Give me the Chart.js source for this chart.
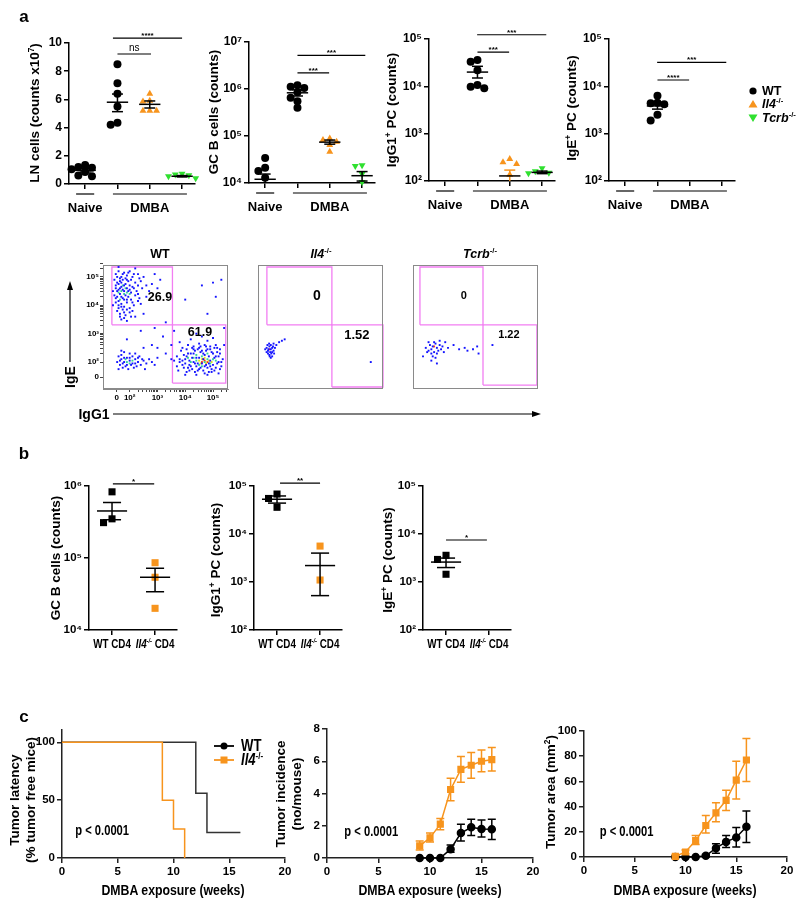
<!DOCTYPE html>
<html>
<head>
<meta charset="utf-8">
<title>DMBA IgE figure</title>
<script src="https://cdn.jsdelivr.net/npm/chart.js@4.4.1/dist/chart.umd.min.js"></script>
<style>
  body { margin: 0; background: #fff; }
  #page { position: relative; width: 800px; height: 906px; overflow: hidden; background: #fff;
          font-family: 'Liberation Sans', Arial, sans-serif; color: #000; }
  #page canvas, #page svg { position: absolute; }
  .lbl { position: absolute; white-space: nowrap; font-weight: bold; line-height: 1; font-size: 13px;
         transform: translate(-50%, -50%); }
  .lbl.rot { transform: translate(-50%, -50%) rotate(-90deg); }
  .lbl.left { transform: translate(0, -50%); }
  .lbl.nar { transform: translate(-50%, -50%) scaleX(0.82); }
  .lbl.left.nar { transform-origin: 0 50%; transform: translate(0, -50%) scaleX(0.82); }
  .lbl sup { font-size: 62%; vertical-align: 0.6em; line-height: 0; }
</style>
</head>
<body>
<div id="page"></div>
<script>
// ---------- values ----------
// panel a, top row. x: 0 = Naive WT, 1 = DMBA WT, 2 = DMBA Il4-/-, 3 = DMBA Tcrb-/-
const aTicks = [0, 1, 2, 3];
const lnNaive = [1.35, 1.2, 1.15, 1.05, 0.85, 0.6, 0.55];
const lnWT = [8.5, 7.15, 6.4, 5.5, 4.35, 4.2];
const lnIl4 = [6.4, 5.9, 5.85, 5.2, 5.2, 5.2];
const lnTcrb = [0.72, 0.68, 0.62, 0.55, 0.4];
const lnMean = [0.97, 5.8, 5.65, 0.55];
const lnLo = [0.85, 5.13, 5.39, 0.5];
const lnHi = [1.1, 6.38, 5.89, 0.6];

const gcNaive = [3.4e4, 2.1e4, 1.8e4, 1.3e4];
const gcWT = [1.2e6, 1.12e6, 1.05e6, 8.5e5, 6.5e5, 5.5e5, 4.0e5];
const gcIl4 = [8.8e4, 8.2e4, 7.5e4, 6.4e4, 4.6e4];
const gcTcrb = [2.4e4, 2.3e4, 1.55e4, 1.05e4];
const gcMean = [1.2e4, 8.3e5, 7.4e4, 1.43e4];
const gcLo = [9e3, 7.1e5, 6.7e4, 1.1e4];
const gcHi = [1.55e4, 9.6e5, 8.2e4, 1.75e4];

const pcWT = [3.6e4, 3.3e4, 2.2e4, 1.07e4, 9.8e3, 9.1e3];
const pcIl4 = [290, 250, 230, 135];
const pcTcrb = [185, 160, 150, 145];
const pcMean = [null, 2.0e4, 128, 152];
const pcLo = [null, 1.5e4, 95, 143];
const pcHi = [null, 2.65e4, 170, 162];

const ipcWT = [6.3e3, 4.5e3, 4.4e3, 4.2e3, 2.5e3, 1.9e3];
const ipcMean = [null, 3.85e3, null, null];
const ipcLo = [null, 3.3e3, null, null];
const ipcHi = [null, 4.6e3, null, null];

// flow plots, IgG1 (x) vs IgE (y), in log10 units (0 sits at ~1.5)
const flowMajorX = [1.53, 2, 3, 4, 5];
const flowMajorY = [1.47, 2, 3, 4, 5];
const flowMajorLbl = ['0', '10²', '10³', '10⁴', '10⁵'];
const wtBlue = [[1.5,5.1],[1.6,5.2],[1.7,5.0],[1.8,5.15],[1.9,5.05],[2.0,5.2],[2.1,5.0],[2.3,5.1],[2.5,5.0],
  [1.45,4.9],[1.55,4.8],[1.65,4.85],[1.75,4.9],[1.85,4.75],[1.95,4.85],[2.05,4.9],[2.2,4.8],[2.4,4.85],[2.6,4.7],[2.8,4.75],
  [1.5,4.6],[1.6,4.55],[1.7,4.65],[1.8,4.5],[1.9,4.6],[2.0,4.55],[2.1,4.65],[2.25,4.5],[2.45,4.6],[2.7,4.5],[3.0,4.6],
  [1.45,4.35],[1.55,4.3],[1.65,4.4],[1.75,4.25],[1.85,4.35],[1.95,4.3],[2.05,4.2],[2.2,4.35],[2.35,4.25],[2.6,4.3],
  [1.5,4.1],[1.6,4.0],[1.7,4.05],[1.8,3.95],[1.9,4.1],[2.0,3.9],[2.15,4.0],[2.4,4.05],[1.55,3.8],[1.65,3.7],[1.75,3.85],
  [1.85,3.65],[2.0,3.75],[2.2,3.6],[1.7,3.5],[1.9,3.45],[2.5,3.7],[1.4,4.5],[1.4,4.0],[3.1,4.9],[2.9,5.1],[1.6,5.35],[2.2,5.3],
  [1.55,5.0],[1.65,4.95],[1.75,5.1],[1.85,4.95],[1.95,5.15],[2.15,5.1],[2.35,4.95],[1.5,4.7],[1.6,4.75],[1.7,4.8],[1.8,4.7],
  [1.9,4.9],[2.0,4.7],[2.15,4.6],[2.3,4.7],[1.55,4.5],[1.65,4.6],[1.75,4.55],[1.95,4.5],[2.05,4.45],[2.3,4.4],[1.5,4.25],
  [1.6,4.15],[1.7,4.3],[1.8,4.2],[1.9,4.2],[2.1,4.1],[2.3,4.15],[1.6,3.9],[1.7,3.95],[1.8,3.75],[1.9,3.85],[2.1,3.8],
  [1.65,3.6],[1.8,3.55],[2.05,3.6],
  [1.6,2.2],[1.7,2.1],[1.8,2.0],[1.9,2.15],[2.0,2.05],[2.1,1.95],[2.2,2.1],[2.3,2.0],[2.4,1.9],[2.5,2.05],[2.6,1.95],
  [2.7,2.1],[2.8,2.0],[1.65,1.9],[1.75,1.8],[1.85,1.85],[1.95,1.75],[2.05,1.9],[2.15,1.8],[2.25,1.85],[2.35,2.2],[1.55,2.0],
  [1.6,1.75],[2.0,2.3],[1.8,2.35],[2.2,2.3],[2.9,1.9],[3.0,2.15],[2.55,1.75],[1.7,2.4],
  [1.7,2.25],[1.8,2.15],[1.9,1.9],[2.0,2.15],[2.1,2.2],[2.2,1.95],[2.3,2.15],[1.75,1.95],[1.65,2.05],[2.45,2.1],
  [3.7,2.2],[3.8,2.0],[3.9,1.9],[4.0,2.1],[4.1,1.8],[4.2,2.3],[4.3,2.0],[4.4,1.85],[4.5,2.15],[4.6,1.95],[4.7,2.25],
  [4.8,1.8],[4.9,2.05],[5.0,1.9],[5.1,2.2],[5.2,2.0],[5.3,1.85],[3.75,1.7],[3.85,2.4],[3.95,2.25],[4.05,1.65],[4.15,2.05],
  [4.25,1.75],[4.35,2.4],[4.45,1.7],[4.55,2.35],[4.65,1.7],[4.75,2.4],[4.85,1.65],[4.95,2.35],[5.05,1.7],[5.15,2.35],
  [5.25,2.3],[5.35,2.1],[3.9,2.5],[4.1,2.6],[4.3,2.55],[4.5,2.65],[4.7,2.6],[4.9,2.55],[5.1,2.6],[4.0,1.55],[4.4,1.55],
  [4.8,1.55],[5.2,1.6],[4.2,2.8],[4.6,2.9],[4.8,2.75],[4.4,3.0],[5.0,2.85],[3.8,2.7],[4.05,2.45],[4.25,2.15],[4.45,2.45],
  [4.65,2.1],[4.85,2.2],[5.05,2.5],[5.25,1.75],[3.7,1.85],[3.6,2.05],[4.15,1.9],[4.35,1.95],[4.55,1.8],[4.75,1.9],
  [4.95,1.75],[5.15,1.95],[4.3,2.3],[4.5,2.5],[4.7,1.6],[4.9,2.45],
  [3.8,2.1],[3.9,2.05],[4.0,1.95],[4.1,2.3],[4.2,1.85],[4.3,2.45],[4.4,2.15],[4.5,1.75],[4.6,2.4],[4.7,1.85],[4.8,2.45],
  [4.9,1.85],[5.0,2.3],[5.1,1.8],[5.2,2.2],[5.3,2.0],[3.95,1.8],[4.05,2.2],[4.25,2.5],[4.45,1.95],[4.65,2.3],[4.85,1.95],
  [5.05,2.15],[5.25,2.45],[4.15,1.7],[4.35,1.65],[4.55,2.55],[4.75,2.55],[4.95,1.65],[5.15,2.5],
  [3.3,2.3],[3.5,2.1],[3.0,2.5],[2.8,2.6],[3.2,2.9],[2.4,3.1],[2.9,3.2],[1.9,2.8],[2.5,2.5],[4.0,4.2],[5.1,4.3],
  [4.8,3.7],[5.0,4.8],[5.3,4.9],[4.6,4.7],[3.6,3.1],[3.3,3.4],[5.4,3.2],[5.4,2.6],[3.5,2.6]];
const wtGreen = [[1.7,4.5],[1.8,4.4],[1.75,4.7],[1.9,4.45],[1.65,4.2],[1.85,4.6],[1.6,4.45],[2.0,4.4],
  [1.9,2.0],[2.0,1.95],[2.1,2.05],[1.85,2.1],
  [4.2,2.0],[4.3,2.15],[4.4,2.05],[4.5,1.9],[4.6,2.2],[4.7,2.0],[4.8,2.1],[4.9,1.95],[5.0,2.1],[4.4,2.25],
  [4.6,1.85],[4.8,2.3],[4.1,2.15],[5.1,2.05]];
const wtYellow = [[4.5,2.05],[4.6,2.1],[4.7,2.15],[4.75,1.95],[4.85,2.05],[4.55,1.95],[4.95,2.0]];
const wtRed = [[4.6,2.0],[4.7,2.05],[4.65,2.1],[4.8,2.0]];
const il4Blue = [[1.35,2.5],[1.4,2.4],[1.45,2.55],[1.5,2.45],[1.55,2.35],[1.4,2.3],[1.45,2.25],[1.5,2.6],[1.55,2.5],
  [1.6,2.4],[1.35,2.35],[1.42,2.45],[1.48,2.35],[1.52,2.3],[1.58,2.55],[1.38,2.6],[1.62,2.3],[1.46,2.2],[1.5,2.15],
  [1.44,2.65],[1.55,2.2],[1.65,2.5],[1.7,2.6],[1.8,2.7],[1.9,2.75],[2.0,2.8],[1.6,2.65],[1.3,2.45],[5.1,2.0]];
const il4Red = [[1.45,2.45]];
const tcrbBlue = [[1.5,2.5],[1.6,2.4],[1.65,2.6],[1.7,2.45],[1.75,2.55],[1.8,2.35],[1.85,2.65],[1.9,2.5],[1.95,2.4],
  [2.0,2.6],[2.05,2.45],[2.1,2.55],[1.6,2.7],[1.7,2.3],[1.8,2.7],[1.9,2.3],[2.0,2.75],[2.15,2.35],[1.55,2.35],[1.75,2.2],
  [1.85,2.15],[2.2,2.7],[2.3,2.5],[2.5,2.6],[2.7,2.45],[2.9,2.5],[3.0,2.4],[3.2,2.45],[3.35,2.55],[3.4,2.3],[3.9,2.6],
  [1.4,2.2],[1.9,1.95],[1.7,2.05]];
const tcrbRed = [[1.8,2.55]];
// gates: [x0, x1, y0, y1]
const wtGateUL = [1.36, 3.54, 3.31, 5.35], wtGateLR = [3.54, 5.46, 1.26, 3.31];
const il4GateUL = [1.36, 3.70, 3.31, 5.35], il4GateLR = [3.70, 5.54, 1.12, 3.31];
const tcrbGateUL = [1.29, 3.56, 3.31, 5.35], tcrbGateLR = [3.56, 5.50, 1.19, 3.31];
const wtFreq = ['26.9', '61.9'], il4Freq = ['0', '1.52'], tcrbFreq = ['0', '1.22'];

// panel b. x: 0 = WT CD4, 1 = Il4-/- CD4
const bTicks = [0, 1];
const bGcWT = [8.3e5, 3.5e5, 3.1e5], bGcIl4 = [8.6e4, 5.4e4, 2.0e4];
const bGcMean = [4.5e5, 5.4e4], bGcLo = [3.4e5, 3.4e4], bGcHi = [5.9e5, 7.2e4];
const bPcWT = [6.8e4, 5.5e4, 3.6e4], bPcIl4 = [5.6e3, 1.1e3];
const bPcMean = [5.3e4, 2.2e3], bPcLo = [4.4e4, 520], bPcHi = [6.2e4, 4.0e3];
const bIpcWT = [3.6e3, 2.95e3, 1.45e3];
const bIpcMean = [2.6e3, null], bIpcLo = [2.0e3, null], bIpcHi = [3.15e3, null];

// panel c
const weekTicks = [0, 5, 10, 15, 20];
const survWeeksWT = [0, 12, 13, 16], survWT = [100, 56, 22, 22];
const survWeeksIl4 = [0, 9, 10, 11], survIl4 = [100, 50, 25, 0];
const weeks = [9, 10, 11, 12, 13, 14, 15, 16];
const incIl4 = [0.75, 1.25, 2.1, 4.25, 5.5, 5.75, 6.0, 6.1];
const incIl4Lo = [0.5, 1.0, 1.75, 3.55, 4.7, 4.95, 5.35, 5.4];
const incIl4Hi = [1.05, 1.55, 2.45, 4.95, 6.3, 6.55, 6.7, 6.85];
const incWT = [0, 0, 0, 0.55, 1.55, 1.9, 1.8, 1.78];
const incWTLo = [0, 0, 0, 0.35, 1.05, 1.4, 1.3, 1.15];
const incWTHi = [0, 0, 0, 0.8, 2.1, 2.4, 2.35, 2.4];
const areaIl4 = [0.5, 4, 13, 25, 35, 45, 61, 77];
const areaIl4Lo = [0, 2.5, 10, 19, 28, 37, 46, 60];
const areaIl4Hi = [1.5, 5.5, 17, 33, 43, 53, 76, 94];
const areaWT = [0, 0, 0, 1, 7, 12, 15.5, 24];
const areaWTLo = [0, 0, 0, 0, 3, 7.5, 8, 11.5];
const areaWTHi = [0, 0, 0, 2, 10.5, 17, 23.5, 36.5];

// ---------- styling ----------
const FONT = "'Liberation Sans', Arial, sans-serif";
const ORANGE = '#f7941d', GREEN = '#2fe02f', PINK = '#f27ef2', FRAME = '#8a8a8a';
const SUP = { '0': '⁰', '1': '¹', '2': '²', '3': '³', '4': '⁴', '5': '⁵', '6': '⁶', '7': '⁷', '8': '⁸', '9': '⁹' };
const pow10 = v => '10' + String(Math.round(Math.log10(v))).split('').map(d => SUP[d]).join('');

Chart.defaults.font.family = FONT;
Chart.defaults.color = '#000';
Chart.defaults.plugins.legend.display = false;
Chart.defaults.plugins.tooltip.enabled = false;

const page = document.getElementById('page');

// centred text made of runs, squeezed horizontally by sx
function drawRuns(ctx, runs, x, y, sx) {
  let w = 0;
  runs.forEach(r => { ctx.font = r.f; w += ctx.measureText(r.t).width; });
  ctx.save();
  ctx.translate(x, y);
  ctx.scale(sx || 1, 1);
  let cx = -w / 2;
  ctx.textAlign = 'left';
  ctx.textBaseline = 'middle';
  runs.forEach(r => { ctx.font = r.f; ctx.fillText(r.t, cx, r.dy || 0); cx += ctx.measureText(r.t).width; });
  ctx.restore();
}

// mean/SEM, significance bars, group lines and in-plot labels
Chart.register({
  id: 'decor',
  afterDatasetsDraw(chart, args, o) {
    const { ctx, chartArea: ca } = chart;
    const X = chart.scales.x, Y = chart.scales.y;
    ctx.save();
    ctx.fillStyle = '#000';
    const seg = (x0, y0, x1, y1, w, c) => {
      ctx.beginPath(); ctx.lineWidth = w; ctx.strokeStyle = c;
      ctx.moveTo(x0, y0); ctx.lineTo(x1, y1); ctx.stroke();
    };
    const yc = v => Math.min(Math.max(Y.getPixelForValue(v), ca.top), ca.bottom);
    if (o.frame) {
      ctx.lineWidth = 1; ctx.strokeStyle = o.frame;
      ctx.strokeRect(ca.left + 0.5, ca.top + 0.5, ca.right - ca.left - 1, ca.bottom - ca.top - 1);
    }
    if (o.stats) {
      const s = o.stats;
      s.mean.forEach((m, i) => {
        if (m == null) return;
        const x = X.getPixelForValue(s.cats[i]);
        const hw = X.getPixelForValue(s.cats[i] + s.meanHalf) - x;
        const cw = X.getPixelForValue(s.cats[i] + s.capHalf) - x;
        const c = (s.colors && s.colors[i]) || '#000';
        const lo = yc(s.lo[i]), hi = yc(s.hi[i]), ym = Y.getPixelForValue(m);
        seg(x, lo, x, hi, 1.5, c);
        seg(x - cw, hi, x + cw, hi, 1.5, c);
        if (s.lo[i] > Y.min) seg(x - cw, lo, x + cw, lo, 1.5, c);
        seg(x - hw, ym, x + hw, ym, 1.5, '#000');
      });
    }
    (o.sig || []).forEach(s => {
      const y = Y.getPixelForValue(s.y), x0 = X.getPixelForValue(s.a), x1 = X.getPixelForValue(s.b);
      seg(x0, y, x1, y, 1.2, '#000');
      ctx.font = s.font || 'bold 8px ' + FONT;
      ctx.textAlign = 'center'; ctx.textBaseline = 'alphabetic';
      ctx.fillText(s.label, (x0 + x1) / 2, y - (s.up || 0));
    });
    (o.groups || []).forEach(g => {
      const yl = ca.bottom + o.groupDy;
      seg(X.getPixelForValue(g.a), yl, X.getPixelForValue(g.b), yl, 1.2, '#000');
      ctx.font = 'bold 13px ' + FONT; ctx.textAlign = 'center'; ctx.textBaseline = 'middle';
      ctx.fillText(g.label, X.getPixelForValue(g.c), ca.bottom + o.groupTextDy);
    });
    (o.xruns || []).forEach(l => drawRuns(ctx, l.runs, X.getPixelForValue(l.x), ca.bottom + o.xrunDy, 0.82));
    (o.texts || []).forEach(t => drawRuns(ctx, [{ t: t.text, f: t.font }], X.getPixelForValue(t.x), Y.getPixelForValue(t.y), t.sx));
    ctx.restore();
  }
});

// error bars for the growth curves
Chart.register({
  id: 'errbars',
  beforeDatasetsDraw(chart) {
    const Y = chart.scales.y, ctx = chart.ctx;
    chart.data.datasets.forEach((ds, i) => {
      if (!ds.errLo) return;
      ctx.save(); ctx.strokeStyle = ds.borderColor; ctx.lineWidth = 1.5;
      chart.getDatasetMeta(i).data.forEach((pt, j) => {
        const lo = Y.getPixelForValue(ds.errLo[j]), hi = Y.getPixelForValue(ds.errHi[j]);
        if (Math.abs(hi - lo) < 1) return;
        ctx.beginPath();
        ctx.moveTo(pt.x, lo); ctx.lineTo(pt.x, hi);
        ctx.moveTo(pt.x - 4, lo); ctx.lineTo(pt.x + 4, lo);
        ctx.moveTo(pt.x - 4, hi); ctx.lineTo(pt.x + 4, hi);
        ctx.stroke();
      });
      ctx.restore();
    });
  }
});

function around(a, l, t, r, b) {
  return { l: a.l - l, t: a.t - t, w: a.r - a.l + l + r, h: a.b - a.t + t + b };
}

// yW / xH: fixed widths given to the axes, so the plot area lands exactly on `area`
function makeChart(box, area, config, yW, xH) {
  const cv = document.createElement('canvas');
  cv.width = box.w; cv.height = box.h;
  cv.style.left = box.l + 'px'; cv.style.top = box.t + 'px';
  cv.style.width = box.w + 'px'; cv.style.height = box.h + 'px';
  page.appendChild(cv);
  Object.assign(config.options, {
    responsive: false, animation: false, devicePixelRatio: 1, events: [],
    layout: { padding: { left: area.l - box.l - yW, top: area.t - box.t,
                         right: box.l + box.w - area.r, bottom: box.t + box.h - area.b - xH } }
  });
  return new Chart(cv.getContext('2d'), config);
}

function axis(isX, range, ticks, o = {}) {
  return {
    type: range.log ? 'logarithmic' : 'linear',
    display: !o.hide,
    min: range.min, max: range.max,
    afterBuildTicks: s => { s.ticks = ticks.map(v => ({ value: v })); },
    afterFit: s => { if (isX) s.height = o.size; else s.width = o.size; },
    ticks: { display: !o.noLabels, autoSkip: false, maxRotation: 0, minRotation: 0, padding: o.pad ?? 2, color: '#000',
             font: o.font || { size: 12, weight: 'bold' }, callback: o.fmt || (v => '' + v) },
    grid: { display: true, drawOnChartArea: false, drawTicks: true, tickLength: o.tl ?? 5,
            color: o.tc || '#000', lineWidth: o.lw ?? 1.5 },
    border: { display: true, color: o.bc || '#000', width: o.lw ?? 1.5 }
  };
}

function yMapper(area, y) {
  const f = y.log ? Math.log10 : (v => v);
  const a = f(y.min), b = f(y.max);
  return v => area.b - (f(v) - a) / (b - a) * (area.b - area.t);
}

// simple beeswarm: pixel offsets so that markers do not sit on top of each other
function swarm(vals, toPix, r) {
  const placed = [], step = 1.7 * r;
  return vals.map(v => {
    const py = toPix(v);
    for (let k = 0; k < 30; k++) {
      const dx = k === 0 ? 0 : (k % 2 ? -1 : 1) * Math.ceil(k / 2) * step;
      if (placed.every(p => Math.hypot(p.x - dx, p.y - py) >= step - 0.5)) {
        placed.push({ x: dx, y: py });
        return dx;
      }
    }
    return 0;
  });
}

function dotPlot(area, xr, yr, yTicks, fmt, groups, decor, r, font) {
  const ymap = yMapper(area, yr);
  const ppu = (area.r - area.l) / (xr.max - xr.min);
  const datasets = groups.map(g => {
    const off = swarm(g.vals, ymap, r);
    return {
      data: g.vals.map((v, i) => ({ x: g.cat + off[i] / ppu, y: v })),
      pointStyle: g.style, rotation: g.rot || 0, pointRadius: r,
      backgroundColor: g.color, borderColor: g.color, borderWidth: 0, clip: false
    };
  });
  return makeChart(around(area, 55, 34, 20, 40), area, {
    type: 'scatter',
    data: { datasets },
    options: {
      scales: {
        x: axis(true, xr, xr.ticks, { noLabels: true, tl: 5, size: 24 }),
        y: axis(false, yr, yTicks, { font, fmt, pad: 2, size: 42 })
      },
      plugins: { decor }
    }
  }, 42, 24);
}

// ---------- panel a, top row ----------
const aX = { min: -0.5, max: 3.4, ticks: aTicks };
const aFont = { size: 12, weight: 'bold' };
const aGroups = [{ a: -0.28, b: 0.28, c: 0, label: 'Naive' }, { a: 0.86, b: 3.15, c: 2, label: 'DMBA' }];
const aStats = (mean, lo, hi, colors) => ({ cats: aTicks, mean, lo, hi, colors, meanHalf: 0.33, capHalf: 0.17 });
const star = (a, b, y, label) => ({ a, b, y, label, font: 'bold 8px ' + FONT, up: 0 });

dotPlot({ l: 69, t: 43, r: 195, b: 184 }, aX, { min: 0, max: 10 }, [0, 2, 4, 6, 8, 10], null, [
  { vals: lnNaive, cat: 0, color: '#000', style: 'circle' },
  { vals: lnWT, cat: 1, color: '#000', style: 'circle' },
  { vals: lnIl4, cat: 2, color: ORANGE, style: 'triangle' },
  { vals: lnTcrb, cat: 3, color: GREEN, style: 'triangle', rot: 180 }
], {
  stats: aStats(lnMean, lnLo, lnHi), groups: aGroups, groupDy: 10, groupTextDy: 24,
  sig: [star(0.86, 3, 10.35, '****'), { a: 1, b: 2.04, y: 9.22, label: 'ns', font: '10px ' + FONT, up: 3 }]
}, 4, aFont);

dotPlot({ l: 249, t: 42, r: 375, b: 183 }, aX, { min: 1e4, max: 1e7, log: true }, [1e4, 1e5, 1e6, 1e7], pow10, [
  { vals: gcNaive, cat: 0, color: '#000', style: 'circle' },
  { vals: gcWT, cat: 1, color: '#000', style: 'circle' },
  { vals: gcIl4, cat: 2, color: ORANGE, style: 'triangle' },
  { vals: gcTcrb, cat: 3, color: GREEN, style: 'triangle', rot: 180 }
], {
  stats: aStats(gcMean, gcLo, gcHi), groups: aGroups, groupDy: 10, groupTextDy: 24,
  sig: [star(1, 3.1, 5.2e6, '***'), star(1, 1.98, 2.2e6, '***')]
}, 4, aFont);

dotPlot({ l: 429, t: 39, r: 555, b: 181 }, aX, { min: 1e2, max: 1e5, log: true }, [1e2, 1e3, 1e4, 1e5], pow10, [
  { vals: pcWT, cat: 1, color: '#000', style: 'circle' },
  { vals: pcIl4, cat: 2, color: ORANGE, style: 'triangle' },
  { vals: pcTcrb, cat: 3, color: GREEN, style: 'triangle', rot: 180 }
], {
  stats: aStats(pcMean, pcLo, pcHi, [null, '#000', ORANGE, '#000']), groups: aGroups, groupDy: 10, groupTextDy: 24,
  sig: [star(0.99, 3.13, 1.23e5, '***'), star(1, 1.98, 5.3e4, '***')]
}, 4, aFont);

dotPlot({ l: 609, t: 39, r: 735, b: 181 }, aX, { min: 1e2, max: 1e5, log: true }, [1e2, 1e3, 1e4, 1e5], pow10, [
  { vals: ipcWT, cat: 1, color: '#000', style: 'circle' }
], {
  stats: aStats(ipcMean, ipcLo, ipcHi), groups: aGroups, groupDy: 10, groupTextDy: 24,
  sig: [star(0.99, 3.13, 3.2e4, '***'), star(1, 1.98, 1.36e4, '****')]
}, 4, aFont);

// ---------- panel a, flow plots ----------
function flowPlot(area, clouds, gates, texts, withAxes) {
  const datasets = clouds.map(c => ({
    data: c.pts.map(p => ({ x: p[0], y: p[1] })), pointStyle: 'rect', pointRadius: 1.35,
    backgroundColor: c.color, borderWidth: 0
  }));
  gates.forEach(g => datasets.push({
    data: [{ x: g[0], y: g[2] }, { x: g[1], y: g[2] }, { x: g[1], y: g[3] }, { x: g[0], y: g[3] }, { x: g[0], y: g[2] }],
    showLine: true, pointRadius: 0, borderColor: PINK, borderWidth: 1.3, fill: false, clip: 3
  }));
  const minor = [];
  [2, 3, 4, 5].forEach(d => [1, 2, 3, 4, 5, 6, 7, 8, 9].forEach(m => { const v = d + Math.log10(m); if (v < 5.5) minor.push(v); }));
  const fmt = major => v => { const i = major.indexOf(v); return i >= 0 ? flowMajorLbl[i] : ''; };
  const fo = { font: { size: 8, weight: 'bold' }, tl: 3, lw: 1, tc: '#444', bc: FRAME, pad: 1, hide: !withAxes };
  const w = withAxes ? 30 : 0, h = withAxes ? 18 : 0;
  return makeChart(around(area, 45, 12, 10, 22), area, {
    type: 'scatter',
    data: { datasets },
    options: {
      scales: {
        x: axis(true, { min: 1.04, max: 5.54 }, [1.53, ...minor], { ...fo, fmt: fmt(flowMajorX), size: h }),
        y: axis(false, { min: 1.05, max: 5.42 }, [1.47, ...minor], { ...fo, fmt: fmt(flowMajorY), size: w })
      },
      plugins: { decor: { frame: FRAME, texts } }
    }
  }, w, h);
}

flowPlot({ l: 103, t: 265, r: 228, b: 389 },
  [{ pts: wtBlue, color: '#1414ff' }, { pts: wtGreen, color: '#34d59a' }, { pts: wtYellow, color: '#e6e21c' }, { pts: wtRed, color: '#ff3a10' }],
  [wtGateUL, wtGateLR],
  [{ text: wtFreq[0], x: 3.09, y: 4.26, font: 'bold 12.5px ' + FONT }, { text: wtFreq[1], x: 4.53, y: 3.03, font: 'bold 12.5px ' + FONT }], true);
flowPlot({ l: 258, t: 265, r: 383, b: 389 },
  [{ pts: il4Blue, color: '#1414ff' }, { pts: il4Red, color: '#ff3a10' }],
  [il4GateUL, il4GateLR],
  [{ text: il4Freq[0], x: 3.16, y: 4.33, font: 'bold 14px ' + FONT }, { text: il4Freq[1], x: 4.6, y: 2.95, font: 'bold 13px ' + FONT }], false);
flowPlot({ l: 413, t: 265, r: 538, b: 389 },
  [{ pts: tcrbBlue, color: '#1414ff' }, { pts: tcrbRed, color: '#ff3a10' }],
  [tcrbGateUL, tcrbGateLR],
  [{ text: tcrbFreq[0], x: 2.87, y: 4.33, font: 'bold 11px ' + FONT }, { text: tcrbFreq[1], x: 4.49, y: 2.95, font: 'bold 11px ' + FONT }], false);

// ---------- panel b ----------
const bX = { min: -0.535, max: 1.51, ticks: bTicks };
const bFont = { size: 11.5, weight: 'bold' };
const NB = 'bold 12px ' + FONT, NBI = 'italic bold 12px ' + FONT, NBS = 'italic bold 7px ' + FONT;
const bRuns = [
  { x: 0, runs: [{ t: 'WT CD4', f: NB }] },
  { x: 1, runs: [{ t: 'Il4', f: NBI }, { t: '-/-', f: NBS, dy: -4 }, { t: ' CD4', f: NB }] }
];
const bStats = (mean, lo, hi) => ({ cats: bTicks, mean, lo, hi, meanHalf: 0.35, capHalf: 0.21 });

dotPlot({ l: 89, t: 486, r: 177, b: 630 }, bX, { min: 1e4, max: 1e6, log: true }, [1e4, 1e5, 1e6], pow10, [
  { vals: bGcWT, cat: 0, color: '#000', style: 'rect' },
  { vals: bGcIl4, cat: 1, color: ORANGE, style: 'rect' }
], { stats: bStats(bGcMean, bGcLo, bGcHi), xruns: bRuns, xrunDy: 15, sig: [star(0.02, 0.98, 1.07e6, '*')] }, 5, bFont);

dotPlot({ l: 254, t: 486, r: 342, b: 630 }, bX, { min: 1e2, max: 1e5, log: true }, [1e2, 1e3, 1e4, 1e5], pow10, [
  { vals: bPcWT, cat: 0, color: '#000', style: 'rect' },
  { vals: bPcIl4, cat: 1, color: ORANGE, style: 'rect' }
], { stats: bStats(bPcMean, bPcLo, bPcHi), xruns: bRuns, xrunDy: 15, sig: [star(0.07, 1, 1.15e5, '**')] }, 5, bFont);

dotPlot({ l: 423, t: 486, r: 511, b: 630 }, bX, { min: 1e2, max: 1e5, log: true }, [1e2, 1e3, 1e4, 1e5], pow10, [
  { vals: bIpcWT, cat: 0, color: '#000', style: 'rect' }
], { stats: bStats(bIpcMean, bIpcLo, bIpcHi), xruns: bRuns, xrunDy: 15, sig: [star(0, 0.95, 7.5e3, '*')] }, 5, bFont);

// ---------- panel c ----------
const cFont = { size: 11.5, weight: 'bold' };
function curvePlot(area, yr, yTicks, sets, texts) {
  const datasets = sets.map(s => ({
    data: s.x.map((w, i) => ({ x: w, y: s.y[i] })),
    borderColor: s.color, backgroundColor: s.color, borderWidth: 1.5, pointStyle: s.style || 'circle',
    pointRadius: s.r || 0, stepped: s.stepped || false, tension: 0, fill: false, clip: false,
    errLo: s.lo, errHi: s.hi
  }));
  const ao = { font: cFont, tl: 5, pad: 2, lw: 1.5, tc: '#222', bc: '#222' };
  return makeChart(around(area, 40, 14, 13, 24), area, {
    type: 'line',
    data: { datasets },
    options: {
      scales: {
        x: axis(true, { min: 0, max: 20 }, weekTicks, { ...ao, size: 22 }),
        y: axis(false, yr, yTicks, { ...ao, size: 32 })
      },
      plugins: { decor: { texts } }
    }
  }, 32, 22);
}
const pFont = 'bold 14px ' + FONT;

curvePlot({ l: 62, t: 730, r: 285, b: 858 }, { min: 0, max: 110.6 }, [0, 50, 100], [
  { x: survWeeksIl4, y: survIl4, color: ORANGE, stepped: 'before' },
  { x: survWeeksWT, y: survWT, color: '#333', stepped: 'before' }
], [{ text: 'p < 0.0001', x: 3.6, y: 23, font: pFont, sx: 0.8 }]);

curvePlot({ l: 327, t: 729, r: 533, b: 858 }, { min: 0, max: 8 }, [0, 2, 4, 6, 8], [
  { x: weeks, y: incIl4, lo: incIl4Lo, hi: incIl4Hi, color: ORANGE, style: 'rect', r: 4 },
  { x: weeks, y: incWT, lo: incWTLo, hi: incWTHi, color: '#000', style: 'circle', r: 3.5 }
], [{ text: 'p < 0.0001', x: 4.3, y: 1.62, font: pFont, sx: 0.8 }]);

curvePlot({ l: 584, t: 731, r: 787, b: 857 }, { min: 0, max: 100 }, [0, 20, 40, 60, 80, 100], [
  { x: weeks, y: areaIl4, lo: areaIl4Lo, hi: areaIl4Hi, color: ORANGE, style: 'rect', r: 4 },
  { x: weeks, y: areaWT, lo: areaWTLo, hi: areaWTHi, color: '#000', style: 'circle', r: 3.5 }
], [{ text: 'p < 0.0001', x: 4.2, y: 19.8, font: pFont, sx: 0.8 }]);

// ---------- text and small drawn keys ----------
function label(html, x, y, cls, style) {
  const d = document.createElement('div');
  d.className = 'lbl ' + (cls || '');
  d.innerHTML = html;
  d.style.left = x + 'px'; d.style.top = y + 'px';
  if (style) d.style.cssText += ';' + style;
  page.appendChild(d);
}

const svgNS = 'http://www.w3.org/2000/svg';
const svg = document.createElementNS(svgNS, 'svg');
svg.setAttribute('width', 800); svg.setAttribute('height', 906);
svg.style.left = '0px'; svg.style.top = '0px';
svg.innerHTML = `
  <line x1="70" y1="362" x2="70" y2="288" stroke="#000" stroke-width="1.2"/>
  <polygon points="70,281 67,290 73,290" fill="#000"/>
  <line x1="113" y1="414" x2="534" y2="414" stroke="#000" stroke-width="1.2"/>
  <polygon points="541,414 532,411 532,417" fill="#000"/>
  <circle cx="753" cy="91" r="3.6" fill="#000"/>
  <polygon points="753,100 757.5,107.5 748.5,107.5" fill="${ORANGE}"/>
  <polygon points="748.5,114.5 757.5,114.5 753,122" fill="${GREEN}"/>
  <line x1="214" y1="746" x2="234" y2="746" stroke="#000" stroke-width="1.8"/>
  <circle cx="224" cy="746" r="3.5" fill="#000"/>
  <line x1="214" y1="760" x2="234" y2="760" stroke="${ORANGE}" stroke-width="1.8"/>
  <rect x="220.5" y="756.5" width="7" height="7" fill="${ORANGE}"/>`;
page.appendChild(svg);

label('a', 24, 16, '', 'font-size:17px');
label('b', 24, 453, '', 'font-size:17px');
label('c', 24, 716, '', 'font-size:17px');

label('LN cells (counts x10<sup>7</sup>)', 35, 113, 'rot', 'font-size:13.5px');
label('GC B cells (counts)', 214, 112, 'rot', 'font-size:13.5px');
label('IgG1<sup>+</sup> PC (counts)', 392, 110, 'rot', 'font-size:13.5px');
label('IgE<sup>+</sup> PC (counts)', 572, 108, 'rot', 'font-size:13.5px');
label('WT', 762, 91, 'left', 'font-size:12.5px');
label('<i>Il4</i><sup>-/-</sup>', 762, 104, 'left', 'font-size:12.5px');
label('<i>Tcrb</i><sup>-/-</sup>', 762, 118, 'left', 'font-size:12.5px');

label('WT', 160, 254, '', 'font-size:12.5px');
label('<i>Il4</i><sup>-/-</sup>', 321, 254, '', 'font-size:12.5px');
label('<i>Tcrb</i><sup>-/-</sup>', 480, 254, '', 'font-size:12.5px');
label('IgE', 70, 377, 'rot', 'font-size:14px');
label('IgG1', 94, 414, '', 'font-size:14px');

label('GC B cells (counts)', 56, 558, 'rot', 'font-size:13.5px');
label('IgG1<sup>+</sup> PC (counts)', 216, 560, 'rot', 'font-size:13.5px');
label('IgE<sup>+</sup> PC (counts)', 388, 560, 'rot', 'font-size:13.5px');

label('Tumor latency', 15, 800, 'rot', 'font-size:13.5px');
label('(% tumor free mice)', 31, 800, 'rot', 'font-size:13.5px');
label('Tumor incidence', 281, 794, 'rot', 'font-size:13.5px');
label('(no/mouse)', 297, 794, 'rot', 'font-size:13.5px');
label('Tumor area (mm<sup>2</sup>)', 551, 792, 'rot', 'font-size:13.5px');
label('DMBA exposure (weeks)', 173, 889, 'nar', 'font-size:15px');
label('DMBA exposure (weeks)', 430, 889, 'nar', 'font-size:15px');
label('DMBA exposure (weeks)', 685, 889, 'nar', 'font-size:15px');
label('WT', 241, 746, 'left nar', 'font-size:16px');
label('<i>Il4</i><sup>-/-</sup>', 241, 760, 'left nar', 'font-size:16px');
</script>
</body>
</html>
